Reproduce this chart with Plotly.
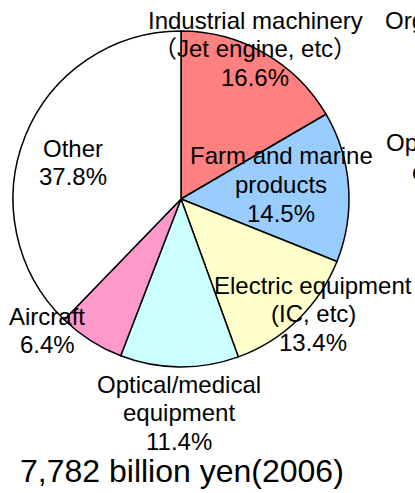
import plotly.graph_objects as go

W, H = 415, 493

labels = ["Industrial machinery", "Farm and marine products", "Electric equipment",
          "Optical/medical equipment", "Aircraft", "Other"]
values = [16.6, 14.5, 13.4, 11.4, 6.4, 37.8]
colors = ["#FF8080", "#99CCFF", "#FFFFCC", "#CCFFFF", "#FF99CC", "#FFFFFF"]
label_lines = [
    ["Industrial machinery", "（Jet engine, etc）", "16.6%"],
    ["Farm and marine", "products", "14.5%"],
    ["Electric equipment", "(IC, etc)", "13.4%"],
    ["Optical/medical", "equipment", "11.4%"],
    ["Aircraft", "6.4%"],
    ["Other", "37.8%"],
]
caption = "7,782 billion yen(2006)"
neighbor_lines = [["Organic chemicals"], ["Optical/medical", "equipment"]]

# pie geometry in pixels
cx, cy, r = 181, 199, 168

fig = go.Figure(go.Pie(
    labels=labels, values=values, sort=False, direction="clockwise", rotation=0,
    marker=dict(colors=colors, line=dict(color="black", width=1.5)),
    textinfo="none", hoverinfo="label+percent", showlegend=False,
    domain=dict(x=[(cx - r) / W, (cx + r) / W], y=[(H - cy - r) / H, (H - cy + r) / H]),
))

font = dict(family="Liberation Sans, Arial, Noto Sans CJK JP, sans-serif", size=24, color="black")

# label block: centre x and y of first line (pixels); line pitch 28.5 px
pos = [(255, 20), (281, 156), (313, 285), (179, 384), (47, 316), (73, 148)]
pitch = 28.5
anns = []
for lines, (x, y0) in zip(label_lines, pos):
    for i, t in enumerate(lines):
        anns.append(dict(text=t, x=x / W, y=1 - (y0 + i * pitch) / H, xref="paper", yref="paper",
                         showarrow=False, xanchor="center", yanchor="middle", font=font))
anns.append(dict(text=caption, x=182 / W, y=1 - 471 / H, xref="paper", yref="paper",
                 showarrow=False, xanchor="center", yanchor="middle",
                 font=dict(font, size=32)))
# cropped labels of the neighbouring chart
anns.append(dict(text=neighbor_lines[0][0], x=383 / W, y=1 - 20 / H, xref="paper", yref="paper",
                 showarrow=False, xanchor="left", yanchor="middle", font=font))
for i, t in enumerate(neighbor_lines[1]):
    anns.append(dict(text=t, x=(383 + 85) / W, y=1 - (143 + i * pitch) / H, xref="paper",
                     yref="paper", showarrow=False, xanchor="center", yanchor="middle", font=font))

fig.update_layout(width=W, height=H, margin=dict(l=0, r=0, t=0, b=0),
                  paper_bgcolor="white", plot_bgcolor="white", annotations=anns)
fig.write_html("out.html", config={"displayModeBar": False},
               post_script="document.body.style.margin='0';document.body.style.overflow='hidden';")
